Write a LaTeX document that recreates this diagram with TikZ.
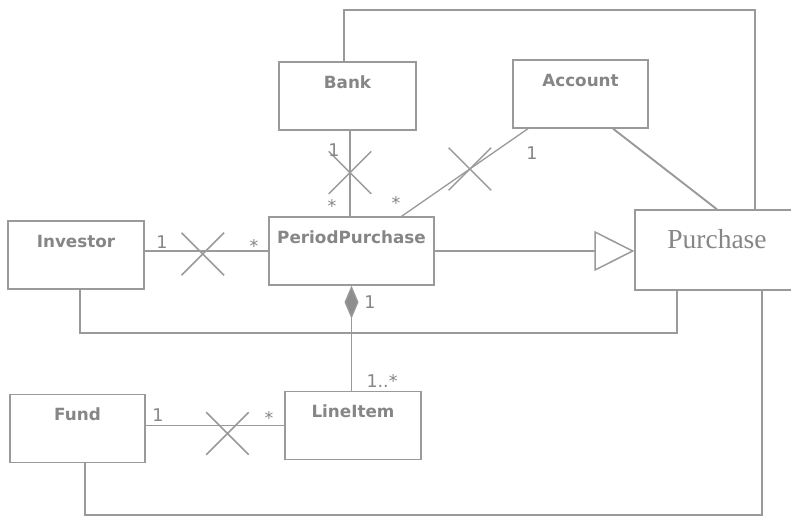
\documentclass[tikz,border=0pt]{standalone}
\usepackage{fontspec}
\setmainfont{Liberation Serif}
\newfontfamily\umlfont{DejaVu Sans}
\usetikzlibrary{arrows.meta,shapes.misc}
\definecolor{umlline}{HTML}{9A9A9A}
\definecolor{umltext}{HTML}{868686}
\definecolor{umlfill}{HTML}{8E8E8E}
\tikzset{
  cls/.style={draw=umlline, line width=1.3pt, inner sep=0pt, text=umltext,
    text height=26pt, text depth=42pt, minimum height=68pt,
    font=\umlfont\bfseries\fontsize{16.8}{20}\selectfont},
  mult/.style={text=umltext, inner sep=0pt, font=\umlfont\fontsize{17.5}{20}\selectfont},
  assoc/.style={draw=umlline, line width=1.3pt},
  bus/.style={draw=umlline, line width=1.9pt},
  xmark/.style={draw=umlline, cross out, line width=1.5pt, minimum size=41pt, inner sep=0pt}
}
\begin{document}
\begin{tikzpicture}[x=1pt,y=-1pt]
\useasboundingbox[fill=white] (0,0) rectangle (791,520);

% classes
\node[cls, minimum width=137pt] (bank) at (347.5,96) {Bank};
\node[cls, minimum width=135pt] (account) at (580.5,94) {Account};
\node[cls, minimum width=136pt] (investor) at (76,255) {Investor};
\node[cls, minimum width=165pt] (pp) at (351.5,251) {PeriodPurchase};
\node[cls, minimum width=158pt, text height=38pt, text depth=42pt,
  font=\rmfamily\fontsize{27.5}{30}\selectfont] (purchase) at (714,250) {\hspace{6pt}Purchase};
\node[cls, minimum width=135pt] (fund) at (77.5,428.5) {Fund};
\node[cls, minimum width=136pt] (lineitem) at (353,425.5) {LineItem};

% bends of the long lines
\coordinate (topbend) at (755,10);
\coordinate (lowbend) at (677,333);
\coordinate (footbend) at (762,515);

\draw[bus] ([xshift=-3.5pt]bank.north) |- (topbend) -- (topbend |- purchase.north);
\draw[bus] ([xshift=32.5pt]account.south) -- ([xshift=3pt]purchase.north);
\draw[bus] ([xshift=4pt]investor.south) |- (lowbend) -- (lowbend |- purchase.south);
\draw[bus] ([xshift=7.5pt]fund.south) |- (footbend) -- (footbend |- purchase.south);

% associations
\draw[assoc] ([xshift=2.5pt]bank.south) -- node[xmark, pos=.49] (xbank) {} ([xshift=2.5pt]bank.south |- pp.north);
\draw[assoc] ([xshift=-52.5pt]account.south) -- node[xmark, pos=.46] (xacc) {} ([xshift=50pt]pp.north);
\draw[assoc] (pp.west -| investor.east) -- node[xmark, pos=.47, yshift=-3pt] (xinv) {} (pp.west);
\draw[assoc] (lineitem.west -| fund.east) -- node[xmark, pos=.59, yshift=-8pt] (xfund) {} (lineitem.west);
\draw[bus, -{Triangle[open, length=40pt, width=40pt, line width=1.5pt]}] (pp.east) -- (pp.east -| purchase.west);
\draw[assoc, -{Diamond[length=33pt, width=14pt, fill=umlfill]}] (lineitem.north -| pp.south) -- (pp.south);

% multiplicities
\node[mult] (mbank) at (334,150) {1};
\node[mult] (mppbank) at (332,206) {*};
\node[mult] (mppacc) at (396,203) {*};
\node[mult] (macc) at (532,153) {1};
\node[mult] (minv) at (162,242) {1};
\node[mult] (mppinv) at (254,246) {*};
\node[mult] (mppline) at (370,302) {1};
\node[mult] (mline) at (382,381) {1..*};
\node[mult] (mfund) at (158,415) {1};
\node[mult] (mlinefund) at (269,418) {*};
\end{tikzpicture}
\end{document}
